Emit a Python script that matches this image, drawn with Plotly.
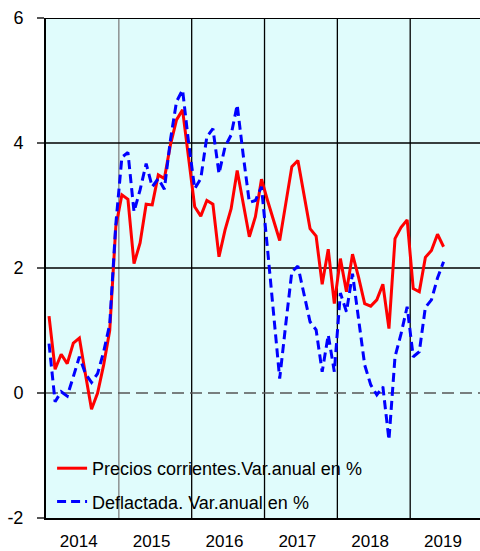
import plotly.graph_objects as go

years = ["2014", "2015", "2016", "2017", "2018", "2019"]
y_ticks = [-2, 0, 2, 4, 6]
y_tick_labels = ["-2", "0", "2", "4", "6"]

precios_corrientes = [
    1.23, 0.38, 0.62, 0.47, 0.80, 0.88, 0.30, -0.26, 0.00, 0.45, 1.00, 2.66,
    3.17, 3.10, 2.07, 2.40, 3.02, 3.01, 3.49, 3.43, 3.97, 4.37, 4.53, 3.80,
    2.98, 2.83, 3.08, 3.02, 2.18, 2.61, 2.95, 3.56, 3.00, 2.50, 2.82, 3.42,
    3.08, 2.76, 2.44, 3.03, 3.62, 3.72, 3.17, 2.63, 2.51, 1.74, 2.30, 1.43,
    2.15, 1.62, 2.22, 1.85, 1.43, 1.39, 1.49, 1.74, 1.03, 2.47, 2.65, 2.77,
    1.67, 1.62, 2.17, 2.28, 2.54, 2.34,
]

deflactada = [
    0.79, -0.14, 0.02, -0.05, 0.26, 0.58, 0.31, 0.17, 0.31, 0.66, 1.10, 2.70,
    3.77, 3.85, 2.90, 3.25, 3.67, 3.30, 3.43, 3.26, 4.05, 4.66, 4.85, 4.00,
    3.27, 3.43, 4.10, 4.23, 3.51, 3.94, 4.13, 4.61, 3.80, 3.05, 3.08, 3.30,
    2.30, 1.27, 0.23, 1.10, 1.94, 2.03, 1.60, 1.14, 1.01, 0.34, 0.93, 0.34,
    1.60, 1.30, 1.91, 1.20, 0.45, 0.13, -0.03, 0.10, -0.75, 0.58, 0.95, 1.38,
    0.58, 0.66, 1.37, 1.49, 1.84, 2.10,
]

series_names = ["Precios corrientes.Var.anual en %", "Deflactada. Var.anual en %"]

# month position (month index, centred in its month slot)
x_months = [i + 0.5 for i in range(len(precios_corrientes))]

FONT = "Liberation Sans, Arial, sans-serif"

fig = go.Figure()
fig.add_trace(go.Scatter(
    x=x_months, y=precios_corrientes, mode="lines", name=series_names[0],
    line=dict(color="#ff0000", width=3), legendgroup="a",
))
fig.add_trace(go.Scatter(
    x=x_months, y=deflactada, mode="lines", name=series_names[1],
    line=dict(color="#0000ff", width=3, dash="9px,5px"), legendgroup="b",
))

shapes = []
# vertical year separators
for k in range(1, len(years)):
    shapes.append(dict(type="line", xref="x", yref="paper", x0=12 * k, x1=12 * k,
                       y0=0, y1=1, layer="below",
                       line=dict(color="#808080" if k == 1 else "#000000", width=1.3)))
# horizontal grid lines
for v in [2, 4]:
    shapes.append(dict(type="line", xref="paper", yref="y", x0=0, x1=1, y0=v, y1=v,
                       layer="below", line=dict(color="#000000", width=1.3)))
shapes.append(dict(type="line", xref="paper", yref="y", x0=0, x1=1, y0=0, y1=0,
                   layer="below", line=dict(color="#555555", width=1.5, dash="12px,6px")))
shapes.append(dict(type="line", xref="paper", yref="y", x0=0, x1=1, y0=6, y1=6,
                   layer="above", line=dict(color="#000000", width=2)))

fig.update_layout(
    width=480, height=551,
    margin=dict(l=46, r=0, t=18, b=33, autoexpand=False),
    paper_bgcolor="#ffffff",
    plot_bgcolor="#e0fcfc",
    font=dict(family=FONT, size=18, color="#000000"),
    shapes=shapes,
    showlegend=True,
    legend=dict(x=0.014, y=-0.004, xanchor="left", yanchor="bottom",
                bgcolor="rgba(0,0,0,0)", font=dict(size=18, family=FONT),
                tracegroupgap=7),
    xaxis=dict(
        range=[0, 71.5],
        tickmode="array",
        tickvals=[12 * k + 5.4 for k in range(len(years))],
        ticktext=years,
        showgrid=False, zeroline=False,
        ticks="outside", ticklen=7, tickcolor="rgba(0,0,0,0)",
        showline=True, linecolor="#000000", linewidth=2,
        tickfont=dict(size=17, family=FONT),
        automargin=False,
    ),
    yaxis=dict(
        range=[-2, 6],
        tickmode="array",
        tickvals=y_ticks,
        ticktext=y_tick_labels,
        showgrid=False, zeroline=False,
        showline=True, linecolor="#000000", linewidth=2,
        ticks="outside", ticklen=7, tickcolor="#555555", tickwidth=1.5,
        ticklabelstandoff=10,
        tickfont=dict(size=18, family=FONT),
        automargin=False,
    ),
)

fig.write_html(
    "out.html",
    config={"displayModeBar": False},
    post_script="document.body.style.margin='0';document.body.style.overflow='hidden';",
)
